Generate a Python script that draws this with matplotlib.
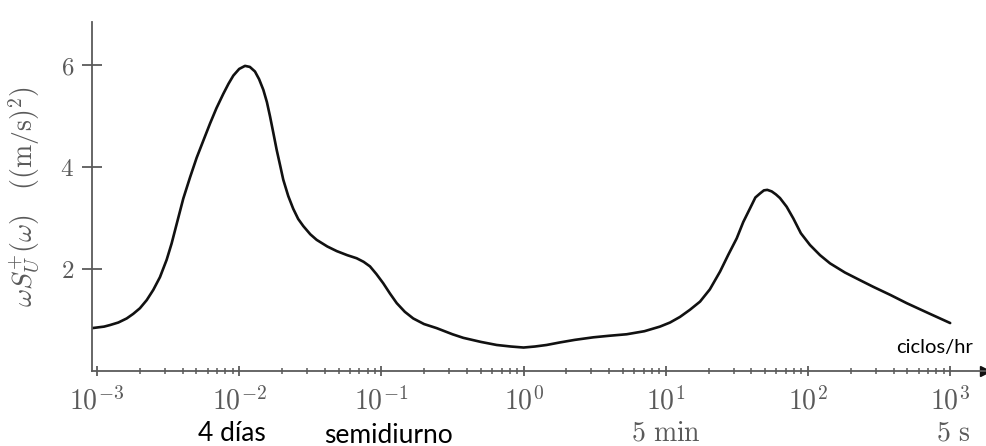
import numpy as np
import matplotlib
matplotlib.use('Agg')
import matplotlib.pyplot as plt
from matplotlib.ticker import LogLocator, FixedLocator, NullFormatter

plt.rcParams['mathtext.fontset'] = 'cm'

# espectro: log10(frecuencia en ciclos/hr) y omega*S
log_f = [-3.035, -2.95, -2.909, -2.85, -2.791, -2.745, -2.698, -2.65, -2.604, -2.557,
         -2.51, -2.475, -2.435, -2.393, -2.345, -2.299, -2.25, -2.205, -2.16, -2.112,
         -2.075, -2.041, -2.0, -1.959, -1.925, -1.889, -1.86, -1.83, -1.805, -1.783,
         -1.76, -1.736, -1.712, -1.69, -1.655, -1.62, -1.585, -1.549, -1.5, -1.455,
         -1.38, -1.314, -1.24, -1.174, -1.125, -1.08, -1.035, -0.987, -0.94, -0.892,
         -0.835, -0.776, -0.7, -0.611, -0.5, -0.424, -0.3, -0.189, -0.09, 0.0,
         0.08, 0.162, 0.256, 0.36, 0.49, 0.6, 0.725, 0.85, 0.959, 1.03,
         1.1, 1.17, 1.241, 1.31, 1.382, 1.44, 1.499, 1.545, 1.593, 1.63,
         1.663, 1.69, 1.714, 1.745, 1.775, 1.803, 1.85, 1.897, 1.95, 2.014,
         2.085, 2.155, 2.26, 2.366, 2.459, 2.58, 2.694, 2.85, 3.0]
espectro = [0.84, 0.87, 0.90, 0.95, 1.03, 1.12, 1.23, 1.39, 1.59, 1.84,
            2.18, 2.50, 2.93, 3.38, 3.80, 4.18, 4.53, 4.85, 5.15, 5.43,
            5.63, 5.79, 5.92, 5.98, 5.96, 5.87, 5.72, 5.51, 5.27, 4.99,
            4.67, 4.33, 4.03, 3.75, 3.43, 3.18, 2.98, 2.84, 2.68, 2.57,
            2.44, 2.35, 2.27, 2.21, 2.14, 2.05, 1.90, 1.72, 1.52, 1.33,
            1.16, 1.03, 0.92, 0.84, 0.72, 0.65, 0.57, 0.51, 0.48, 0.46,
            0.48, 0.51, 0.56, 0.61, 0.66, 0.69, 0.72, 0.78, 0.87, 0.95,
            1.06, 1.20, 1.36, 1.60, 1.95, 2.28, 2.60, 2.92, 3.19, 3.40,
            3.48, 3.54, 3.55, 3.52, 3.46, 3.39, 3.22, 2.99, 2.70, 2.47,
            2.27, 2.11, 1.93, 1.78, 1.65, 1.49, 1.33, 1.13, 0.94]
frec = 10 ** np.array(log_f)

yticks = [2, 4, 6]
xticks = [1e-3, 1e-2, 1e-1, 1e0, 1e1, 1e2, 1e3]
xtick_labels = ['$10^{-3}$', '$10^{-2}$', '$10^{-1}$', '$10^{0}$', '$10^{1}$', '$10^{2}$', '$10^{3}$']

# periodos de referencia bajo el eje
periodos = ['4 días', 'semidiurno']
periodos_x = [10 ** -2.05, 10 ** -0.947]
periodos_y = [-0.2, -0.206]
periodos_tex = [r'$5\ \mathrm{min}$', r'$5\ \mathrm{s}$']
periodos_tex_x = [10 ** 1.0, 10 ** 3.02]

gris = '#5a5a5a'

fig = plt.figure(figsize=(9.86, 4.46), dpi=100)
ax = fig.add_axes([92 / 986, 1 - 371 / 446, (985 - 92) / 986, (371 - 22) / 446])

ax.plot(frec, espectro, color='#111111', lw=1.9, solid_capstyle='round', solid_joinstyle='round')

ax.set_xscale('log')
ax.set_xlim(10 ** -3.035, 10 ** 3.245)
ax.set_ylim(0, 6.84)

for s in ['top', 'right']:
    ax.spines[s].set_visible(False)
for s in ['left', 'bottom']:
    ax.spines[s].set_color(gris)
    ax.spines[s].set_linewidth(1.3)

ax.plot(1, 0, '>', color='#111111', ms=7, transform=ax.get_yaxis_transform(), clip_on=False)
ax.plot(0, 1, '^', color='#111111', ms=8, transform=ax.get_xaxis_transform(), clip_on=False)

ax.xaxis.set_major_locator(FixedLocator(xticks))
ax.set_xticklabels(xtick_labels)
ax.xaxis.set_minor_locator(LogLocator(base=10, subs=np.arange(2, 10), numticks=20))
ax.xaxis.set_minor_formatter(NullFormatter())
ax.set_yticks(yticks)
ax.set_yticklabels([f'${v}$' for v in yticks])

ax.tick_params(axis='x', which='major', direction='inout', length=7, width=1.3,
               color=gris, labelcolor=gris, labelsize=20, pad=8)
ax.tick_params(axis='x', which='minor', direction='inout', length=5, width=1.1, color=gris)
ax.tick_params(axis='y', which='major', direction='inout', length=14, width=1.3,
               color=gris, labelcolor=gris, labelsize=18, pad=6)

ax.set_ylabel(r'$\omega S_U^{+}(\omega)\quad((\mathrm{m/s})^2)$', color=gris, fontsize=20)
ax.yaxis.set_label_coords(-0.056, 0.5)

for txt, xp, yp in zip(periodos, periodos_x, periodos_y):
    ax.text(xp, yp, txt, transform=ax.get_xaxis_transform(), ha='center', va='baseline',
            color='black', fontsize=19, family='Lato')
for txt, xp in zip(periodos_tex, periodos_tex_x):
    ax.text(xp, -0.198, txt, transform=ax.get_xaxis_transform(), ha='center', va='baseline',
            color=gris, fontsize=20)

ax.text(10 ** 2.893, 0.47, 'ciclos/hr', ha='center', va='center', color='black',
        fontsize=14.5, family='Lato')

fig.savefig('out.png', dpi=100)
